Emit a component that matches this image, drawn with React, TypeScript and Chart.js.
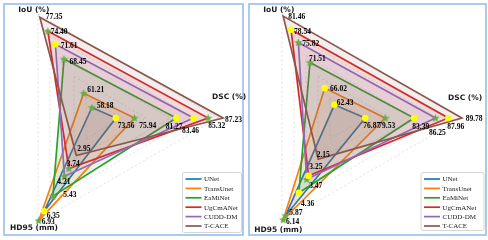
import React, { useEffect, useRef } from "react";
import { Chart, registerables } from "chart.js";

Chart.register(...registerables);

// ---------- data ----------
const axisNames = ["IoU (%)", "DSC (%)", "HD95 (mm)"];
const models = ["UNet", "TransUnet", "EaMiNet", "UgCmANet", "CUDD-DM", "T-CACE"];
const lineColors = ["#1f77b4", "#ff7f0e", "#2ca02c", "#d62728", "#9467bd", "#8c564b"];

// left panel
const iouLeft = [58.18, 61.21, 68.45, 74.4, 71.61, 77.35];
const dscLeft = [73.56, 75.94, 81.27, 85.32, 83.46, 87.23];
const hd95Left = [6.35, 6.93, 5.43, 3.74, 4.21, 2.95];
// value at centre / value at outer ring, per axis [IoU, DSC, HD95]
const axisLowLeft = [55.95, 71.29, 0.653];
const axisHighLeft = [78.01, 86.58, 7.006];

// right panel
const iouRight = [62.43, 66.02, 71.51, 78.54, 75.82, 81.46];
const dscRight = [76.87, 79.53, 83.39, 87.96, 86.25, 89.78];
const hd95Right = [5.87, 6.14, 4.36, 3.25, 3.47, 2.15];
const axisLowRight = [59.6, 73.77, -0.56];
const axisHighRight = [81.9, 89.79, 6.28];

// marker kinds per model, per axis [IoU, DSC, HD95]
type Marker = "star" | "dot" | "none";
const markersLeft: Marker[][] = [
  ["star", "dot", "dot"],
  ["star", "star", "star"],
  ["star", "dot", "star"],
  ["star", "star", "star"],
  ["dot", "dot", "star"],
  ["none", "none", "none"],
];
const markersRight: Marker[][] = [
  ["dot", "dot", "star"],
  ["dot", "star", "star"],
  ["star", "dot", "dot"],
  ["dot", "dot", "dot"],
  ["star", "star", "star"],
  ["none", "none", "none"],
];

// ---------- styling / placement ----------
// value label offsets (left edge, vertical middle) from each point, per model per axis
const labelOffsetsLeft: number[][][] = [
  [[4.8, -1.7], [1.9, 8.2], [2.5, 4.6]],
  [[3.6, -3.5], [4.8, 8.2], [3, 1.8]],
  [[5.5, 3], [-10.6, 9], [10.4, -1.1]],
  [[2.9, 1.4], [0.2, 8.5], [-2.1, -4.5]],
  [[5.3, 1.6], [-11.5, 13.5], [-7.1, 6.3]],
  [[5.9, -0.4], [1.9, 2], [1, -6.6]],
];
const labelOffsetsRight: number[][][] = [
  [[2.3, -1.5], [-1.9, 8.2], [3.7, -2.4]],
  [[5.3, 1.4], [-6.8, 8.2], [2.8, 1.9]],
  [[-1, -3], [-1.8, 9.5], [2.2, 11.6]],
  [[3, 1.9], [-1, 9.5], [0.7, -9.2]],
  [[3.9, 1.4], [-6.5, 14.8], [2.6, 7.1]],
  [[5.1, 1.4], [3.8, 1], [-1.5, -4.6]],
];
const axisLabelPosLeft = [[-79.7, -107.5], [114, -20.5], [-88, 110.3]];
const axisLabelPosRight = [[-78.7, -107.7], [106, -20.2], [-87.7, 112]];
const legendBoxLeft = { x: 84, y: 54, w: 59, h: 60 };
const legendBoxRight = { x: 78.5, y: 54, w: 63, h: 58 };

const CANVAS_W = 568;
const CANVAS_H = 280;
const RING_PX = 120; // radius of outer ring
const AREA_PX = 130; // drawing radius

function hexA(hex: string, a: number) {
  const n = parseInt(hex.slice(1), 16);
  return `rgba(${(n >> 16) & 255},${(n >> 8) & 255},${n & 255},${a})`;
}

function makeStar(): HTMLCanvasElement {
  const c = document.createElement("canvas");
  c.width = 9;
  c.height = 9;
  const g = c.getContext("2d")!;
  g.fillStyle = "#6aab45";
  g.beginPath();
  for (let i = 0; i < 10; i++) {
    const r = i % 2 === 0 ? 4.4 : 1.9;
    const a = -Math.PI / 2 + (i * Math.PI) / 5;
    const x = 4.5 + r * Math.cos(a);
    const y = 4.8 + r * Math.sin(a);
    if (i === 0) g.moveTo(x, y);
    else g.lineTo(x, y);
  }
  g.closePath();
  g.fill();
  return c;
}

type PanelProps = {
  iou: number[];
  dsc: number[];
  hd95: number[];
  low: number[];
  high: number[];
  markers: Marker[][];
  labelOffsets: number[][][];
  axisLabelPos: number[][];
  legendBox: { x: number; y: number; w: number; h: number };
  pageLeft: number;
};

function RadarPanel(p: PanelProps) {
  const ref = useRef<HTMLCanvasElement | null>(null);
  useEffect(() => {
    if (!ref.current) return;
    const star = makeStar();
    const raw = models.map((_, k) => [p.iou[k], p.dsc[k], p.hd95[k]]);
    const norm = (v: number, i: number) => (v - p.low[i]) / (p.high[i] - p.low[i]);
    const lineSets = models.map((m, k) => ({
      label: m,
      data: raw[k].map((v, i) => norm(v, i)),
      borderColor: lineColors[k],
      backgroundColor: hexA(lineColors[k], 0.1),
      borderWidth: 1.7,
      fill: "origin",
      pointRadius: 0,
      pointHoverRadius: 0,
      clip: false as any,
      order: 10 - k,
    }));
    const markerSets = models.map((m, k) => ({
      label: m + " markers",
      data: raw[k].map((v, i) => norm(v, i)),
      showLine: false,
      fill: false,
      borderWidth: 0,
      borderColor: "rgba(0,0,0,0)",
      backgroundColor: "rgba(0,0,0,0)",
      pointStyle: p.markers[k].map((t) => (t === "star" ? star : "circle")),
      pointRadius: p.markers[k].map((t) => (t === "none" ? 0 : 3.3)),
      pointHoverRadius: 0,
      pointBackgroundColor: "#ffff00",
      pointBorderWidth: 0,
      pointBorderColor: "rgba(0,0,0,0)",
      clip: false as any,
      order: -1,
    }));

    const overlay = {
      id: "overlay",
      afterDraw(chart: any) {
        const ctx = chart.ctx as CanvasRenderingContext2D;
        const scale = chart.scales.r;
        const cx = scale.xCenter;
        const cy = scale.yCenter;
        ctx.save();
        // value labels
        ctx.font = "bold 7.5px 'Liberation Serif', 'Times New Roman', serif";
        ctx.fillStyle = "#000";
        ctx.textAlign = "left";
        ctx.textBaseline = "middle";
        for (let k = 0; k < models.length; k++) {
          const meta = chart.getDatasetMeta(k);
          meta.data.forEach((pt: any, i: number) => {
            const [dx, dy] = p.labelOffsets[k][i];
            ctx.fillText(raw[k][i].toFixed(2), pt.x + dx, pt.y + dy);
          });
        }
        // axis titles
        ctx.font = "bold 7.5px 'DejaVu Sans', sans-serif";
        ctx.fillStyle = "#1a1a1a";
        axisNames.forEach((name, i) => {
          const [dx, dy] = p.axisLabelPos[i];
          ctx.fillText(name, cx + dx, cy + dy);
        });
        // legend
        const b = p.legendBox;
        const bx = cx + b.x;
        const by = cy + b.y;
        ctx.beginPath();
        ctx.roundRect(bx + 0.5, by + 0.5, b.w, b.h, 2);
        ctx.fillStyle = "rgba(255,255,255,0.9)";
        ctx.fill();
        ctx.strokeStyle = "#cccccc";
        ctx.lineWidth = 0.8;
        ctx.stroke();
        ctx.font = "7px 'Liberation Serif', 'Times New Roman', serif";
        models.forEach((m, k) => {
          const y = by + 7 + k * 9.4;
          ctx.beginPath();
          ctx.moveTo(bx + 3.5, y);
          ctx.lineTo(bx + 19.5, y);
          ctx.strokeStyle = lineColors[k];
          ctx.lineWidth = 1.7;
          ctx.stroke();
          ctx.fillStyle = "#222";
          ctx.fillText(m, bx + 22, y + 0.5);
        });
        ctx.restore();
      },
    };

    const center = 138;
    const chart = new Chart(ref.current, {
      type: "radar",
      data: { labels: axisNames, datasets: [...lineSets, ...markerSets] as any },
      options: {
        responsive: false,
        animation: false,
        devicePixelRatio: 1,
        events: [],
        layout: {
          padding: {
            left: center - AREA_PX,
            top: center - AREA_PX,
            right: CANVAS_W - center - AREA_PX,
            bottom: CANVAS_H - center - AREA_PX,
          },
        },
        plugins: { legend: { display: false }, tooltip: { enabled: false } },
        elements: { line: { tension: 0 } },
        scales: {
          r: {
            startAngle: -30,
            min: 0,
            max: AREA_PX / RING_PX,
            ticks: { display: false, stepSize: 0.2, includeBounds: false } as any,
            pointLabels: { display: false },
            angleLines: { display: false },
            grid: { color: "rgba(150,150,150,0.32)", lineWidth: 0.8 },
            border: { dash: [2.5, 2] } as any,
          },
        },
      } as any,
      plugins: [overlay],
    });
    return () => chart.destroy();
  }, []);
  return (
    <canvas
      ref={ref}
      width={CANVAS_W}
      height={CANVAS_H}
      style={{ position: "absolute", left: p.pageLeft, top: -20, width: CANVAS_W, height: CANVAS_H }}
    />
  );
}

export default function App() {
  const frame = (left: number, width: number) => (
    <div
      style={{
        position: "absolute",
        left,
        top: 3,
        width,
        height: 233,
        boxSizing: "border-box",
        border: "2px solid #aacbed",
      }}
    />
  );
  return (
    <div
      style={{
        position: "fixed",
        left: 0,
        top: 0,
        width: 488,
        height: 240,
        overflow: "hidden",
        background: "#fff",
      }}
    >
      {frame(3, 241)}
      {frame(248, 239)}
      <RadarPanel
        iou={iouLeft}
        dsc={dscLeft}
        hd95={hd95Left}
        low={axisLowLeft}
        high={axisHighLeft}
        markers={markersLeft}
        labelOffsets={labelOffsetsLeft}
        axisLabelPos={axisLabelPosLeft}
        legendBox={legendBoxLeft}
        pageLeft={-40}
      />
      <RadarPanel
        iou={iouRight}
        dsc={dscRight}
        hd95={hd95Right}
        low={axisLowRight}
        high={axisHighRight}
        markers={markersRight}
        labelOffsets={labelOffsetsRight}
        axisLabelPos={axisLabelPosRight}
        legendBox={legendBoxRight}
        pageLeft={204}
      />
    </div>
  );
}
